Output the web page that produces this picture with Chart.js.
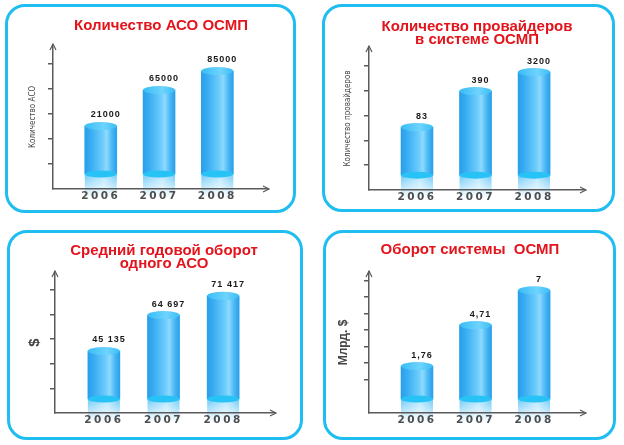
<!DOCTYPE html>
<html lang="ru">

<head>
    <meta charset="UTF-8">
    <title>ОСМП - показатели 2006-2008</title>
    <style>
        body {
            margin: 0;
            width: 624px;
            height: 445px;
            position: relative;
            overflow: hidden;
            background: #fff;
            font-family: "Liberation Sans", Arial, sans-serif;
        }

        .panel {
            position: absolute;
            box-sizing: border-box;
            border: 3px solid #1fbdf0;
            border-radius: 20px;
            background: #fff;
        }

        .panel canvas {
            position: absolute;
            left: -3px;
            top: -3px;
        }

        .ttl {
            position: absolute;
            transform: translate(-50%, -50%);
            white-space: nowrap;
            text-align: center;
            color: #e3141c;
            font-weight: bold;
            font-size: 15px;
            line-height: 13px;
            z-index: 2;
        }
    </style>
</head>

<body>
    <!-- Количество АСО -->
    <div class="panel" style="left:5px;top:4px;width:291px;height:209px">
        <div class="ttl" style="left:153px;top:17px">Количество АСО ОСМП</div>
        <canvas id="chartAso" width="291" height="209"></canvas>
    </div>
    <!-- Количество провайдеров -->
    <div class="panel" style="left:322px;top:4px;width:293px;height:208px">
        <div class="ttl" style="left:152px;top:25px">Количество провайдеров<br>в системе ОСМП</div>
        <canvas id="chartProv" width="293" height="208"></canvas>
    </div>
    <!-- Средний оборот -->
    <div class="panel" style="left:7px;top:230px;width:296px;height:210px">
        <div class="ttl" style="left:154px;top:23px">Средний годовой оборот<br>одного АСО</div>
        <canvas id="chartAvg" width="296" height="210"></canvas>
    </div>
    <!-- Оборот системы -->
    <div class="panel" style="left:323px;top:230px;width:293px;height:210px">
        <div class="ttl" style="left:144px;top:15px">Оборот системы&nbsp; ОСМП</div>
        <canvas id="chartSys" width="293" height="210"></canvas>
    </div>

    <script src="https://cdn.jsdelivr.net/npm/chart.js"></script>
    <script>
        const years = [2006, 2007, 2008];

        // значения из подписей над столбиками
        const asoCount = [21000, 65000, 85000];
        const providerCount = [83, 390, 3200];
        const avgTurnover = [45135, 64697, 71417];
        const systemTurnover = [1.76, 4.71, 7];

        // высота столбиков на оси без подписей (в делениях оси)
        const asoHeight = [2.52, 3.96, 4.72];
        const providerHeight = [2.54, 3.99, 4.76];
        const avgHeight = [2.52, 3.98, 4.76];
        const systemHeight = [2.83, 5.3, 7.4];

        // деления оси Y
        const ticksFive = [1, 2, 3, 4, 5];
        const ticksSeven = [2, 3, 4, 5, 6, 7, 8];

        const xMin = 2005.18;
        const xMax = 2008.87;
        const axisColor = '#5a5a5a';

        // цилиндры, подписи значений, стрелки осей
        const cylinder = {
            id: 'cylinder',
            beforeDraw(chart) {
                chart.ctx.letterSpacing = '0px';
            },
            afterDatasetsDraw(chart, args, opts) {
                const ctx = chart.ctx;
                const meta = chart.getDatasetMeta(0);
                meta.data.forEach(function (bar, i) {
                    const x = bar.x, top = bar.y, base = bar.base, w = bar.width;
                    const l = x - w / 2, r = x + w / 2;
                    ctx.save();
                    // отражение под столбиком
                    let g = ctx.createLinearGradient(l, 0, r, 0);
                    g.addColorStop(0, '#6fcaf7');
                    g.addColorStop(0.6, '#b9e8fd');
                    g.addColorStop(1, '#6fcaf7');
                    ctx.fillStyle = g;
                    ctx.fillRect(l, base, w, 24);
                    let f = ctx.createLinearGradient(0, base, 0, base + 24);
                    f.addColorStop(0, 'rgba(255,255,255,0)');
                    f.addColorStop(1, 'rgba(255,255,255,1)');
                    ctx.fillStyle = f;
                    ctx.fillRect(l - 1, base, w + 2, 24.5);
                    // тело цилиндра
                    g = ctx.createLinearGradient(l, 0, r, 0);
                    g.addColorStop(0, '#2a9de8');
                    g.addColorStop(0.18, '#37acf2');
                    g.addColorStop(0.55, '#6ccbfb');
                    g.addColorStop(0.68, '#8ddafd');
                    g.addColorStop(0.84, '#4cb9f6');
                    g.addColorStop(1, '#2b9ee8');
                    ctx.fillStyle = g;
                    ctx.fillRect(l, top, w, base - top);
                    // нижняя крышка
                    ctx.beginPath();
                    ctx.ellipse(x, base, w / 2, 3.5, 0, 0, Math.PI * 2);
                    ctx.fillStyle = '#27c3f6';
                    ctx.fill();
                    // верхняя крышка
                    g = ctx.createLinearGradient(l, 0, r, 0);
                    g.addColorStop(0, '#38bdf6');
                    g.addColorStop(0.6, '#6fd3fc');
                    g.addColorStop(1, '#3bbdf6');
                    ctx.beginPath();
                    ctx.ellipse(x, top, w / 2, 4, 0, 0, Math.PI * 2);
                    ctx.fillStyle = g;
                    ctx.fill();
                    // значение
                    ctx.font = 'bold 9px "Liberation Sans", Arial, sans-serif';
                    ctx.letterSpacing = '1px';
                    ctx.fillStyle = '#1a1a1a';
                    ctx.textAlign = 'center';
                    ctx.textBaseline = 'middle';
                    ctx.fillText(opts.labels[i], x + 5, top - 11);
                    ctx.restore();
                });
                // разрядка для подписей годов (ось X рисуется после столбиков)
                ctx.letterSpacing = '2.5px';
            },
            afterDraw(chart) {
                const ctx = chart.ctx;
                const { left, top, right, bottom } = chart.chartArea;
                ctx.letterSpacing = '0px';
                ctx.save();
                ctx.strokeStyle = axisColor;
                ctx.lineWidth = 1.2;
                ctx.beginPath();
                ctx.moveTo(left - 3, top + 5);
                ctx.lineTo(left, top - 1);
                ctx.lineTo(left + 3, top + 5);
                ctx.stroke();
                ctx.beginPath();
                ctx.moveTo(right - 5, bottom - 3);
                ctx.lineTo(right + 1, bottom);
                ctx.lineTo(right - 5, bottom + 3);
                ctx.stroke();
                ctx.restore();
            }
        };

        function makeChart(id, o) {
            return new Chart(document.getElementById(id), {
                type: 'bar',
                data: {
                    labels: years,
                    datasets: [{
                        data: o.heights.map(h => [o.base, h]),
                        backgroundColor: '#3ab0f0',
                        borderWidth: 0,
                        barThickness: 32
                    }]
                },
                options: {
                    responsive: false,
                    animation: false,
                    devicePixelRatio: 1,
                    layout: {
                        padding: { left: 0, top: o.area[1], right: o.w - o.area[2], bottom: 0 }
                    },
                    plugins: {
                        legend: { display: false },
                        tooltip: { enabled: false },
                        cylinder: { labels: o.values.map(o.fmt) }
                    },
                    scales: {
                        x: {
                            type: 'linear',
                            offset: false,
                            min: xMin,
                            max: xMax,
                            afterBuildTicks: s => { s.ticks = years.map(v => ({ value: v })); },
                            afterFit: s => { s.height = o.h - o.area[3]; },
                            grid: { display: false, drawTicks: false },
                            border: { color: axisColor, width: 1.5, z: 1 },
                            ticks: {
                                z: 1,
                                callback: v => String(v),
                                padding: 1,
                                color: '#4d4d4d',
                                font: { family: 'DejaVu Sans', size: 10.5, weight: 'bold' }
                            }
                        },
                        y: {
                            min: 0,
                            max: o.yMax,
                            afterBuildTicks: s => { s.ticks = o.ticks.map(v => ({ value: v })); },
                            afterFit: s => { s.width = o.area[0]; },
                            ticks: { display: false },
                            grid: { drawOnChartArea: false, tickLength: 5, color: axisColor, lineWidth: 1.5 },
                            border: { color: axisColor, width: 1.5 },
                            title: {
                                display: true,
                                text: o.yTitle,
                                color: '#444',
                                font: o.yFont,
                                padding: { top: o.yPad, bottom: 0 }
                            }
                        }
                    }
                },
                plugins: [cylinder]
            });
        }

        const narrow = { family: '"Liberation Sans Narrow", "DejaVu Sans Condensed", sans-serif', size: 8 };

        makeChart('chartAso', {
            w: 291, h: 209, area: [48, 41, 263, 185],
            heights: asoHeight, base: 0.6, yMax: 5.76, ticks: ticksFive,
            values: asoCount, fmt: v => String(v),
            yTitle: 'Количество АСО', yFont: narrow, yPad: 23
        });

        makeChart('chartProv', {
            w: 293, h: 208, area: [47, 43, 263, 186],
            heights: providerHeight, base: 0.6, yMax: 5.77, ticks: ticksFive,
            values: providerCount, fmt: v => String(v),
            yTitle: 'Количество провайдеров', yFont: narrow, yPad: 21
        });

        makeChart('chartAvg', {
            w: 296, h: 210, area: [48, 42, 268, 183],
            heights: avgHeight, base: 0.57, yMax: 5.73, ticks: ticksFive,
            values: avgTurnover, fmt: v => String(v).replace(/\B(?=(\d{3})+(?!\d))/g, ' '),
            yTitle: '$', yFont: { family: '"Liberation Sans", Arial, sans-serif', size: 15, weight: 'bold' }, yPad: 19
        });

        makeChart('chartSys', {
            w: 293, h: 210, area: [46, 42, 262, 183],
            heights: systemHeight, base: 0.84, yMax: 8.5, ticks: ticksSeven,
            values: systemTurnover, fmt: v => String(v).replace('.', ','),
            yTitle: 'Млрд. $', yFont: { family: '"Liberation Sans", Arial, sans-serif', size: 12, weight: 'bold' }, yPad: 13
        });
    </script>
</body>

</html>
